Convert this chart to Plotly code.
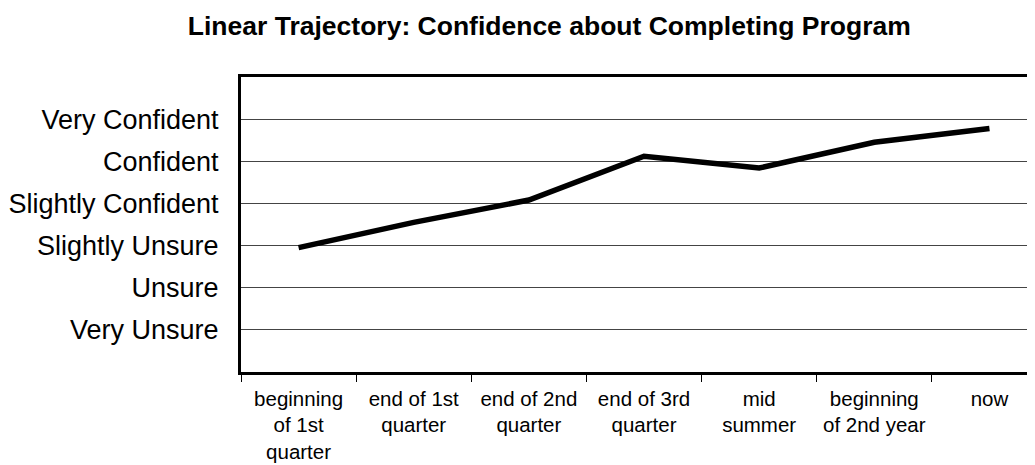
import plotly.graph_objects as go

categories = [
    "beginning<br>of 1st<br>quarter",
    "end of 1st<br>quarter",
    "end of 2nd<br>quarter",
    "end of 3rd<br>quarter",
    "mid<br>summer",
    "beginning<br>of 2nd year",
    "now",
]
confidence = [2.95, 3.55, 4.08, 5.12, 4.84, 5.45, 5.78]

level_values = [1, 2, 3, 4, 5, 6]
level_labels = ["Very Unsure", "Unsure", "Slightly Unsure",
                "Slightly Confident", "Confident", "Very Confident"]

title_text = "Linear Trajectory: Confidence about Completing Program"

fig = go.Figure()
fig.add_trace(go.Scatter(
    x=categories, y=confidence, mode="lines",
    line=dict(color="black", width=5.5),
    showlegend=False, hoverinfo="skip",
))

fig.update_layout(
    width=1035, height=465,
    margin=dict(l=233, r=0, t=69, b=101),
    paper_bgcolor="white", plot_bgcolor="white",
    font=dict(family="Liberation Sans, Arial, sans-serif", color="black"),
    title=dict(text="<b>" + title_text + "</b>", x=0.523, xref="container",
               xanchor="center", y=0.962, yref="container", yanchor="middle",
               font=dict(size=26.5, color="black", family="Liberation Sans, Arial, sans-serif")),
)

fig.update_xaxes(
    type="category", range=[-0.5, 6.465],
    showgrid=False, zeroline=False,
    showline=True, linecolor="black", linewidth=3, mirror=True,
    ticks="outside", tickson="boundaries", ticklen=7, tickwidth=1, tickcolor="black",
    tickfont=dict(size=20.5, color="black"),
    tickangle=0, ticklabelstandoff=6,
)
fig.update_yaxes(
    range=[0, 7], tickmode="array", tickvals=level_values, ticktext=level_labels,
    showgrid=True, gridcolor="#444444", gridwidth=1, zeroline=False,
    showline=True, linecolor="black", linewidth=3, mirror=False,
    ticks="", tickfont=dict(size=27, color="black"),
    ticklabelstandoff=14,
)

fig.write_html("out.html")
